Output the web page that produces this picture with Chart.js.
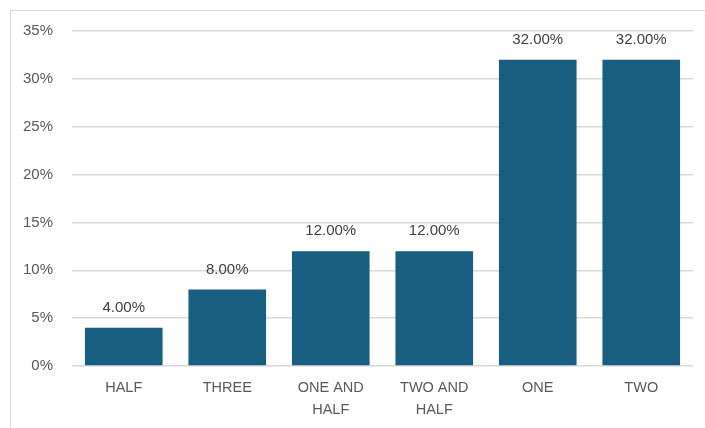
<!DOCTYPE html>
<html>
<head>
<meta charset="utf-8">
<script src="https://cdn.jsdelivr.net/npm/chart.js@4"></script>
<style>
  html, body { margin: 0; padding: 0; background: #fff; overflow: hidden; }
  #wrap { position: relative; width: 705px; height: 428px; }
  #frame { position: absolute; left: 10px; top: 10px; width: 720px; height: 440px; border: 1.5px solid #d9d9d9; box-sizing: border-box; }
  canvas { position: absolute; left: 0; top: 0; }
</style>
</head>
<body>
<div id="wrap">
  <div id="frame"></div>
  <canvas id="chart" width="705" height="428"></canvas>
</div>
<script>
const categories = [['HALF'], ['THREE'], ['ONE AND', 'HALF'], ['TWO AND', 'HALF'], ['ONE'], ['TWO']];
const shares = [4, 8, 12, 12, 32, 32];
const yTicks = [0, 5, 10, 15, 20, 25, 30, 35];

const barColor = '#175e80';
const textColor = '#595959';
const fontFamily = '"Liberation Sans", Arial, sans-serif';

// writes the value above each bar
const valueLabels = {
  id: 'valueLabels',
  afterDatasetsDraw(chart) {
    const ctx = chart.ctx;
    const meta = chart.getDatasetMeta(0);
    ctx.save();
    ctx.font = '15px ' + fontFamily;
    ctx.fillStyle = '#404040';
    ctx.textAlign = 'center';
    ctx.textBaseline = 'middle';
    meta.data.forEach((bar, i) => {
      ctx.fillText(shares[i].toFixed(2) + '%', bar.x, bar.y - 20);
    });
    ctx.restore();
  }
};

new Chart(document.getElementById('chart'), {
  type: 'bar',
  data: {
    labels: categories,
    datasets: [{
      data: shares,
      backgroundColor: barColor,
      borderWidth: 0,
      barPercentage: 0.75,
      categoryPercentage: 1
    }]
  },
  options: {
    responsive: false,
    animation: false,
    layout: { padding: { left: 10, right: 12, top: 31, bottom: 0 } },
    plugins: { legend: { display: false }, tooltip: { enabled: false } },
    scales: {
      x: {
        grid: { display: false },
        border: { display: false },
        ticks: {
          color: textColor,
          font: { family: fontFamily, size: 14.5, lineHeight: 1.5 },
          padding: 3,
          maxRotation: 0,
          autoSkip: false
        },
        afterFit(scale) { scale.height = 62; }
      },
      y: {
        min: 0,
        max: 35,
        afterBuildTicks(scale) { scale.ticks = yTicks.map(v => ({ value: v })); },
        grid: { color: '#d9d9d9', lineWidth: 1.5, drawTicks: false },
        border: { display: false },
        ticks: {
          color: textColor,
          font: { family: fontFamily, size: 15 },
          padding: 19,
          callback: v => v + '%'
        },
        afterFit(scale) { scale.width = 62; }
      }
    }
  },
  plugins: [valueLabels]
});
</script>
</body>
</html>
